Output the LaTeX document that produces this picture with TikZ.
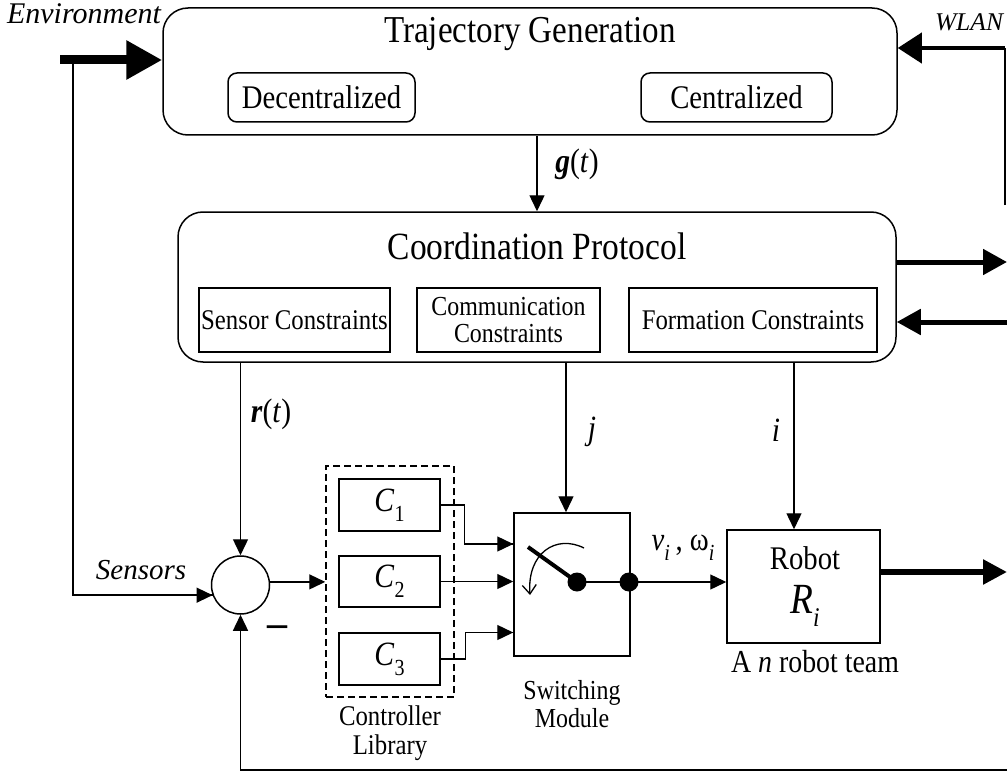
\documentclass[tikz,border=0pt]{standalone}
\usepackage{fontspec}
\setmainfont{Liberation Serif}[FakeStretch=0.87]
\newfontfamily\labfont{Liberation Serif}
\usetikzlibrary{arrows.meta,calc}

% lowered subscript at a given size
\newcommand{\lowsub}[2]{\raisebox{-0.3em}{\fontsize{#1}{#1}\selectfont #2}}
\newcommand{\fsz}[1]{\fontsize{#1}{#1}\selectfont}

\begin{document}
\begin{tikzpicture}[x=1pt,y=-1pt,
  blk/.style={draw, line width=1.5pt, inner sep=0pt},
  rblk/.style={blk, rounded corners=25pt},
  sblk/.style={blk, rounded corners=9pt},
  lbl/.style={inner sep=0pt},
  wire/.style={line width=1.4pt, -{Triangle[length=16pt,width=15pt]}},
  plain/.style={line width=1.4pt},
  bus/.style={line width=5pt, -{Triangle[length=24pt,width=25pt]}},
  dot/.style={circle, fill=black, inner sep=0pt, minimum size=19pt}
]
\useasboundingbox (0,0) rectangle (1007,773);

% ---------------- trajectory generation ----------------
\node[rblk, minimum width=734pt, minimum height=127pt] (traj) at (530,71.5) {};
\node[lbl, font=\fsz{38}] (trajT) at (530,34) {Trajectory Generation};
\node[sblk, minimum width=187pt, minimum height=49pt, font=\fsz{33}] (dec) at (321.5,97.5) {Decentralized};
\node[sblk, minimum width=191pt, minimum height=49pt, font=\fsz{33}] (cen) at (736.5,97.5) {Centralized};

% ---------------- coordination protocol ----------------
\node[rblk, minimum width=718pt, minimum height=150pt] (coord) at (537,287) {};
\node[lbl, font=\fsz{38.5}] (coordT) at (537,246) {Coordination Protocol};
\node[blk, minimum width=191pt, minimum height=64pt, font=\fsz{28.5}] (sens) at (294.5,320) {Sensor Constraints};
\node[blk, minimum width=183pt, minimum height=64pt, font=\fsz{27.5}, align=center] (comm) at (508.5,320) {Communication\\[-1pt]Constraints};
\node[blk, minimum width=248pt, minimum height=64pt, font=\fsz{28.5}] (form) at (753,320) {Formation Constraints};

% ---------------- summing junction ----------------
\node[draw, circle, line width=1.5pt, minimum size=58pt, inner sep=0pt] (sum) at (240.5,585) {};
\node[lbl, font=\labfont\bfseries\fsz{40}] (minus) at (277,631) {–};

% ---------------- controller library ----------------
\node[draw, dashed, dash pattern=on 7pt off 4pt, line width=1.5pt, minimum width=128pt, minimum height=231pt, inner sep=0pt] (lib) at (390,581.5) {};
\node[blk, minimum width=101pt, minimum height=52pt, font=\fsz{34}] (c1) at (389.5,505) {\textit{C}\lowsub{23}{1}};
\node[blk, minimum width=101pt, minimum height=51pt, font=\fsz{34}] (c2) at (389.5,581.5) {\textit{C}\lowsub{23}{2}};
\node[blk, minimum width=101pt, minimum height=52pt, font=\fsz{34}] (c3) at (389.5,659) {\textit{C}\lowsub{23}{3}};
\node[lbl, font=\fsz{28.5}, align=center] (libT) at (390,733) {Controller\\[1pt]Library};

% ---------------- switching module ----------------
\node[blk, minimum width=116pt, minimum height=143pt] (sw) at (572,584.5) {};
\node[dot] (d1) at (577,582) {};
\node[dot] (d2) at (629,582) {};
\coordinate (lev) at (528,547);
\node[lbl, font=\fsz{27.5}, align=center] (swT) at (572,704) {Switching\\[1pt]Module};

% ---------------- robot ----------------
\node[blk, minimum width=153pt, minimum height=113pt] (robot) at (803.5,586.5) {};
\node[lbl, font=\fsz{33}] (robT) at (805,558) {Robot};
\node[lbl, font=\fsz{43}] (robR) at (805,606) {\textit{R}\lowsub{27}{\textit{i}}};
\node[lbl, font=\fsz{32}] (team) at (815,662) {A \textit{n} robot team};

% ---------------- free ends ----------------
\coordinate (envL) at (60,60);
\coordinate (envD) at (73,60);
\coordinate (wlanB) at (1005,205);
\coordinate (wlanT) at (1005,48);
\coordinate (outA) at (1007,262);
\coordinate (inA) at (1007,322);
\coordinate (robOut) at (1007,572);
\coordinate (fbR) at (1007,770);
\coordinate (jin) at ([xshift=-6pt]sw.north);
\coordinate (iin) at ([xshift=-9.5pt]robot.north);

% ---------------- labels ----------------
\node[lbl, font=\labfont\fsz{30}\itshape] (envT) at (84,14) {Environment};
\node[lbl, font=\labfont\fsz{25.5}\itshape] (wlanL) at (969,22) {WLAN};
\node[lbl, font=\labfont\fsz{29}\itshape] (sensL) at (141,570) {Sensors};
\node[lbl, font=\fsz{34}] (gL) at (577,164) {\textbf{\textit{g}}(\textit{t})};
\node[lbl, font=\fsz{34}] (rL) at (271,414) {\textbf{\textit{r}}(\textit{t})};
\node[lbl, font=\fsz{34}] (jL) at (592,432) {\textit{j}};
\node[lbl, font=\fsz{34}] (iL) at (776,430) {\textit{i}};
\node[lbl, font=\fsz{33}] (vwL) at (683,548) {\textit{v}\lowsub{23}{\textit{i}}\,, ω\lowsub{23}{\textit{i}}};

% ---------------- connectors ----------------
% environment input
\draw[line width=9pt, -{Triangle[length=36pt,width=37pt]}] (envL) -- (envL -| traj.west);
\draw[plain] (envD) |- (sum.200);
\draw[wire] ($(sum.200)+(-1,0)$) -- (sum.200);

% WLAN link
\draw[line width=2pt] (wlanB) -- (wlanT);
\draw[line width=4pt, -{Triangle[length=24pt,width=30pt]}] (wlanT) -- (wlanT -| traj.east);

% g(t)
\draw[wire] (traj.south -| coord.north) -- (coord.north);

% coordination side links
\draw[bus] ([yshift=25pt]coord.east) -- (outA);
\draw[bus] (inA) -- ([yshift=-35pt]coord.east);

% r(t), j, i
\draw[wire] (coord.south -| sum.north) -- (sum.north);
\draw[wire] (jin |- coord.south) -- (jin);
\draw[wire] (iin |- coord.south) -- (iin);

% summing junction to library, feedback
\draw[wire] (sum.6) -- (sum.6 -| lib.west);
\draw[plain] (fbR) -| ([yshift=-25pt]sum.south);
\draw[wire] ([yshift=-25pt]sum.south) -- (sum.south);

% controllers to switch
\draw[plain] (c1.east) -- ++(24,0) |- ([yshift=40.5pt]sw.west);
\draw[wire] ([yshift=40.5pt, xshift=-20pt]sw.west) -- ([yshift=40.5pt]sw.west);
\draw[wire] (c2.east) -- (c2.east -| sw.west);
\draw[plain] (c3.east) -- ++(25,0) |- ([yshift=-48pt]sw.west);
\draw[wire] ([yshift=-48pt, xshift=-20pt]sw.west) -- ([yshift=-48pt]sw.west);

% switch internals
\draw[line width=4pt] (lev) -- (d1.center);
\draw[line width=2.5pt] (d1.center) -- (d2.center);
\draw[line width=1.3pt, -{Straight Barb[length=9pt,width=14pt]}] (584,548) .. controls (556,534) and (527,553) .. (530,595);

% switch to robot, robot output
\draw[wire] (d2.center) -- (d2.center -| robot.west);
\draw[line width=5.5pt, -{Triangle[length=24pt,width=24pt]}] ([yshift=14.5pt]robot.east) -- (robOut);
\end{tikzpicture}
\end{document}
